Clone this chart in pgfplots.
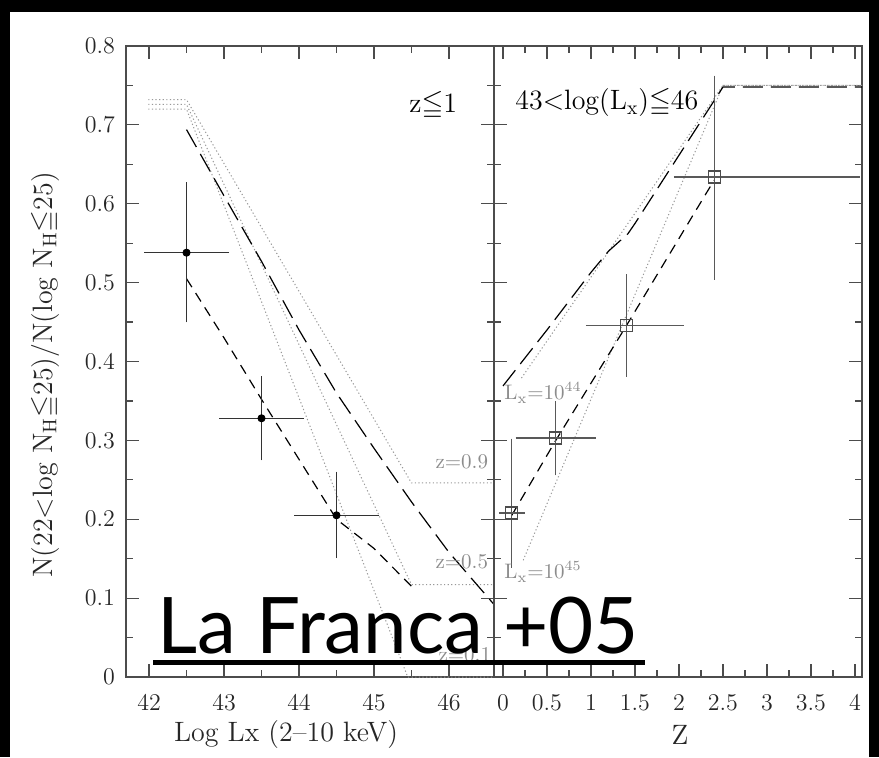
\documentclass[border=0pt]{standalone}
\usepackage{fontspec}
\usepackage{amssymb}
\usepackage{pgfplots}
\pgfplotsset{compat=1.18}
\newfontfamily\lato{Lato}

\pgfplotsset{
  panel/.style={
    scale only axis, width=184pt, height=315.5pt,
    ymin=0, ymax=0.8,
    ytick={0,0.1,0.2,0.3,0.4,0.5,0.6,0.7,0.8},
    minor y tick num=1,
    tick align=inside,
    major tick length=6.5pt, minor tick length=3.5pt,
    axis line style={black!70, line width=0.6pt},
    every tick/.style={black!70, line width=0.6pt},
    tick label style={font=\fontsize{12.5}{14}\selectfont, black!85},
    xticklabel style={yshift=-5.5pt},
  },
  fitline/.style={black, line width=0.6pt},
  shortdash/.style={fitline, dash pattern=on 5pt off 3.5pt},
  longdash/.style={fitline, dash pattern=on 10pt off 4pt},
  model/.style={black!40, line width=0.5pt, dash pattern=on 0.6pt off 1.2pt},
}
\tikzset{lab/.style={black!45, font=\fontsize{10.5}{12}\selectfont}}

\begin{document}
\begin{tikzpicture}[x=1pt,y=1pt]
\fill[black] (0pt,0pt) rectangle (439.5pt,378.5pt);
\fill[white] (5pt,0pt) rectangle (434.5pt,372.5pt);
\path[use as bounding box] (0pt,0pt) rectangle (439.5pt,378.5pt);

% ---------------- left panel: fraction vs luminosity (z <= 1)
\begin{axis}[panel, at={(63pt,40pt)}, anchor=south west,
  xmin=41.693, xmax=46.6, xtick={42,43,44,45,46}, minor x tick num=1,
  yticklabel style={xshift=-2pt}]
  % model curves at z = 0.1, 0.5, 0.9
  \addplot[model] coordinates {(41.99,0.720) (42.5,0.720) (45.45,0.0) (46.6,0.0)};
  \addplot[model] coordinates {(41.99,0.726) (42.5,0.726) (45.5,0.117) (46.6,0.117)};
  \addplot[model] coordinates {(41.99,0.732) (42.5,0.732) (45.5,0.246) (46.6,0.246)};
  % best fits
  \addplot[longdash] coordinates {(42.5,0.694) (43.0,0.61) (43.5,0.527) (44.0,0.44)
    (44.5,0.36) (45.0,0.29) (45.5,0.222) (46.0,0.158) (46.6,0.092)};
  \addplot[shortdash] coordinates {(42.5,0.505) (43.0,0.43) (43.5,0.352) (44.0,0.276)
    (44.5,0.20) (45.0,0.163) (45.5,0.115)};
  % measurements
  \addplot[draw=none, mark=*, mark size=1.8pt,
    mark options={black, solid},
    error bars/.cd, x dir=both, x explicit, y dir=both, y explicit,
    error bar style={black!80, line width=0.6pt},
    error mark options={black!80, mark size=2.5pt, line width=0.6pt}]
    coordinates {
      (42.5,0.538) += (0.5,0.083) -= (0.5,0.082)
      (43.5,0.328) += (0.5,0.047) -= (0.5,0.047)
      (44.5,0.205) += (0.5,0.049) -= (0.5,0.048)
    };
  \node[lab] at (axis cs:46.17,0.2726) {z=0.9};
  \node[lab] at (axis cs:46.17,0.1458) {z=0.5};
  \node[lab] at (axis cs:46.21,0.0279) {z=0.1};
  \node[font=\fontsize{14}{16}\selectfont] at (axis cs:45.79,0.725) {z$\leqq$1};
\end{axis}

% ---------------- right panel: fraction vs redshift
\begin{axis}[panel, at={(247pt,40pt)}, anchor=south west,
  xmin=-0.102, xmax=4.08, xtick={0,0.5,1,1.5,2,2.5,3,3.5,4}, minor x tick num=1,
  yticklabels={}]
  \addplot[model] coordinates {(0.21,0.379) (2.5,0.75) (4.08,0.75)};
  \addplot[model] coordinates {(0.23,0.148) (2.5,0.75) (4.08,0.75)};
  \addplot[longdash] coordinates {(0.0,0.369) (0.5,0.44) (1.0,0.513) (1.2,0.54)
    (1.33,0.553) (1.42,0.562) (1.5,0.575) (2.5,0.748) (4.08,0.748)};
  \addplot[shortdash] coordinates {(0.1,0.205) (0.6,0.30) (1.4,0.445) (2.4,0.63)};
  \addplot[draw=none, mark=square, mark size=3pt,
    mark options={black!70, solid, line width=0.6pt},
    error bars/.cd, x dir=both, x explicit, y dir=both, y explicit,
    error bar style={black!65, line width=0.6pt},
    error mark options={black!65, mark size=2.5pt, line width=0.6pt}]
    coordinates {
      (0.1,0.208) += (0.09,0.088) -= (0.09,0.063)
      (0.6,0.303) += (0.4,0.040) -= (0.4,0.041)
      (1.4,0.446) += (0.6,0.058) -= (0.4,0.059)
      (2.4,0.634) += (1.6,0.122) -= (0.4,0.124)
    };
  \node[lab] at (axis cs:0.455,0.360) {L$_\mathrm{x}$=10$^{44}$};
  \node[lab] at (axis cs:0.455,0.133) {L$_\mathrm{x}$=10$^{45}$};
  \node[font=\fontsize{14}{16}\selectfont] at (axis cs:1.18,0.728)
    {43<log(L$_\mathrm{x}$)$\leqq$46};
\end{axis}

% axis titles
\node[font=\fontsize{14}{16}\selectfont, black!85] at (143pt,11pt) {Log Lx (2--10 keV)};
\node[font=\fontsize{14}{16}\selectfont, black!85] at (340pt,11pt) {Z};
\node[font=\fontsize{14}{16}\selectfont\addfontfeature{LetterSpace=5}, black!85, rotate=90]
  at (22.5pt,191pt)
  {N(22<log N$_\mathrm{H}$$\leqq$25)/N(log N$_\mathrm{H}$$\leqq$25)};

% citation tag
\node[anchor=base west, inner sep=0pt, font=\lato\fontsize{39}{40}\selectfont]
  at (78.5pt,52pt) {La Franca +05};
\draw[line width=2.5pt] (76.5pt,47.5pt) -- (322.5pt,47.5pt);
\end{tikzpicture}
\end{document}
